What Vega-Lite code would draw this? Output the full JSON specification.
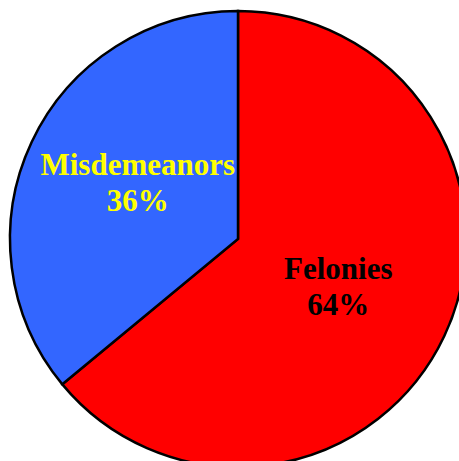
{
  "$schema": "https://vega.github.io/schema/vega-lite/v6.json",
  "width": 476,
  "height": 478,
  "padding": 0,
  "autosize": {"type": "none"},
  "background": "white",
  "config": {"view": {"stroke": null}},
  "data": {
    "values": [
      {"category": "Felonies", "label": "Felonies\n64%", "pct": 64, "ord": 1},
      {"category": "Misdemeanors", "label": "Misdemeanors\n36%", "pct": 36, "ord": 2}
    ]
  },
  "encoding": {
    "theta": {"field": "pct", "type": "quantitative", "stack": true},
    "order": {"field": "ord", "type": "quantitative"}
  },
  "layer": [
    {
      "mark": {"type": "arc", "outerRadius": 228, "stroke": "black", "strokeWidth": 2.5},
      "encoding": {
        "color": {
          "field": "category",
          "type": "nominal",
          "scale": {"domain": ["Felonies", "Misdemeanors"], "range": ["#ff0000", "#3366ff"]},
          "legend": null
        }
      }
    },
    {
      "mark": {
        "type": "text",
        "radius": 113,
        "dx": 2,
        "dy": -25,
        "font": "Liberation Serif",
        "fontWeight": "bold",
        "fontSize": 31,
        "lineHeight": 36,
        "lineBreak": "\n",
        "align": "center",
        "baseline": "middle",
        "color": "#ffff00"
      },
      "encoding": {
        "text": {
          "condition": {"test": "datum.category === 'Misdemeanors'", "field": "label", "type": "nominal"},
          "value": ""
        }
      }
    },
    {
      "mark": {
        "type": "text",
        "radius": 113,
        "dx": -2,
        "dy": -17,
        "font": "Liberation Serif",
        "fontWeight": "bold",
        "fontSize": 31,
        "lineHeight": 36,
        "lineBreak": "\n",
        "align": "center",
        "baseline": "middle",
        "color": "#000000"
      },
      "encoding": {
        "text": {
          "condition": {"test": "datum.category === 'Felonies'", "field": "label", "type": "nominal"},
          "value": ""
        }
      }
    }
  ]
}
